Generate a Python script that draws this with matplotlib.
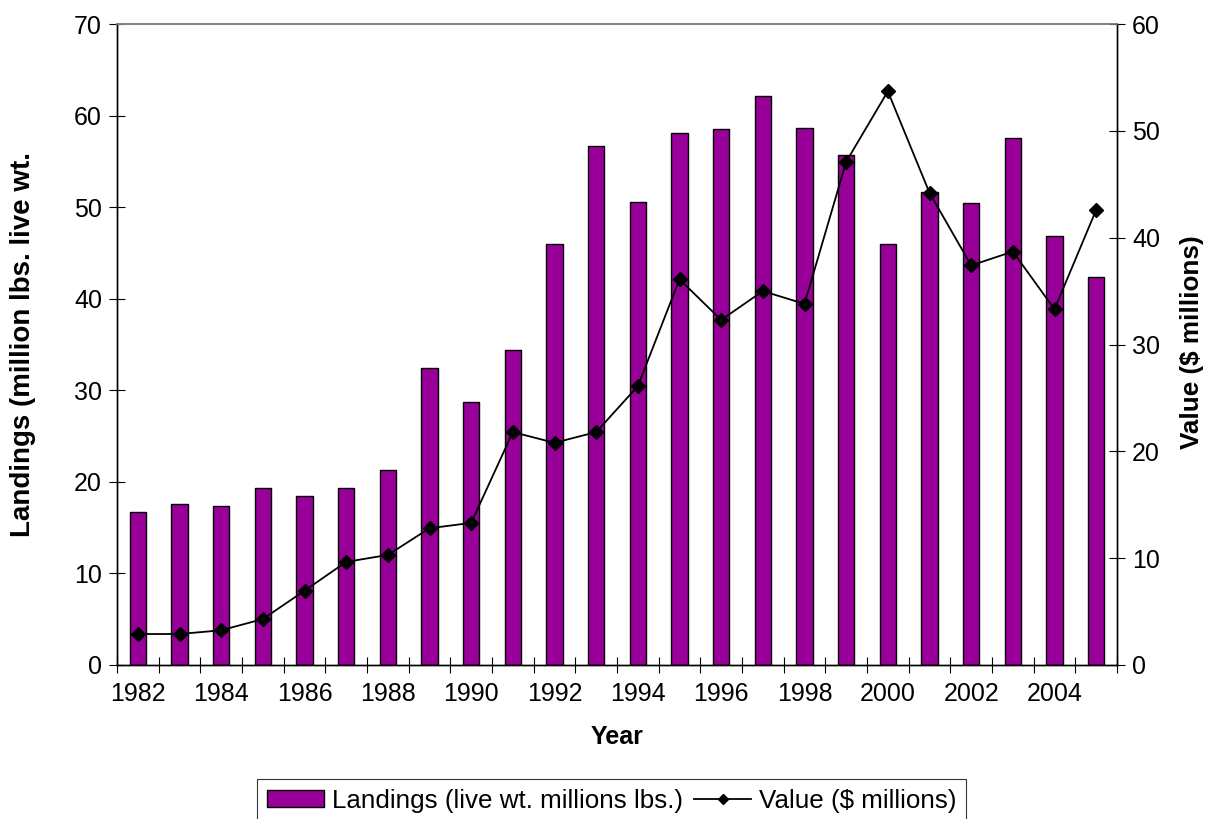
import matplotlib
matplotlib.use("Agg")
import matplotlib.pyplot as plt
import numpy as np

plt.rcParams['font.family'] = ['Liberation Sans', 'DejaVu Sans']

# data
years = list(range(1982, 2006))
landings = [16.7, 17.6, 17.4, 19.3, 18.5, 19.3, 21.3, 32.4, 28.7, 34.4, 46.0, 56.7,
            50.6, 58.1, 58.5, 62.1, 58.6, 55.7, 46.0, 51.6, 50.5, 57.6, 46.8, 42.4]
value = [2.9, 2.9, 3.25, 4.3, 6.95, 9.65, 10.3, 12.8, 13.3, 21.8, 20.8, 21.8,
         26.1, 36.1, 32.3, 35.0, 33.8, 47.1, 53.7, 44.2, 37.4, 38.7, 33.3, 42.6]

bar_label = "Landings (live wt. millions lbs.)"
line_label = "Value ($ millions)"

fs = 18
x = np.arange(len(years))

fig = plt.figure(figsize=(12.09, 8.19), dpi=100)
ax = fig.add_axes([117/1209, 1-665/819, 1000/1209, 641/819])
ax2 = ax.twinx()

bars = ax.bar(x, landings, width=0.39, color='#990099', edgecolor='black',
              linewidth=1.0, label=bar_label)
line, = ax2.plot(x, value, color='black', linewidth=1.3, marker='D',
                 markersize=7, label=line_label)

ax.set_xlim(-0.5, len(years) - 0.5)
ax.set_ylim(0, 70)
ax2.set_ylim(0, 60)
ax.set_yticks(range(0, 71, 10))
ax2.set_yticks(range(0, 61, 10))

# tick marks between categories, labels on every other year
ax.set_xticks(np.arange(-0.5, len(years), 1.0))
ax.set_xticklabels([])
ax.set_xticks(x[::2], minor=True)
ax.set_xticklabels([str(y) for y in years[::2]], minor=True)
ax.tick_params(axis='x', which='major', direction='inout', length=11.5, width=0.8)
ax.tick_params(axis='x', which='minor', length=0, pad=12, labelsize=fs)
ax.tick_params(axis='y', direction='inout', length=11.5, width=0.8, labelsize=fs, pad=5)
ax2.tick_params(axis='y', direction='inout', length=11.5, width=0.8, labelsize=fs, pad=5)

for a in (ax, ax2):
    a.spines['top'].set_color('#808080')
    a.spines['top'].set_linewidth(1.2)
    a.spines['left'].set_linewidth(1.0)
    a.spines['right'].set_linewidth(1.0)
    a.spines['bottom'].set_linewidth(1.0)

ax.set_xlabel("Year", fontsize=fs, fontweight='bold', labelpad=14)
ax.set_ylabel("Landings (million lbs. live wt.", fontsize=20, fontweight='bold')
ax.yaxis.set_label_coords(-0.081, 0.5)
ax2.set_ylabel("Value ($ millions)", fontsize=18.8, fontweight='bold', rotation=90)
ax2.yaxis.set_label_coords(1.063, 0.503)

leg = fig.legend([bars, line], [bar_label, line_label], loc='upper center',
                 bbox_to_anchor=(0.506, 1 - 779/819), borderaxespad=0,
                 ncol=2, fontsize=18.7, frameon=True, fancybox=False,
                 edgecolor='black', handlelength=2.2, handleheight=0.6,
                 handletextpad=0.28, columnspacing=0.45, borderpad=0.38,
                 markerscale=0.7)
leg.get_frame().set_linewidth(0.8)

fig.savefig("out.png", dpi=100)
